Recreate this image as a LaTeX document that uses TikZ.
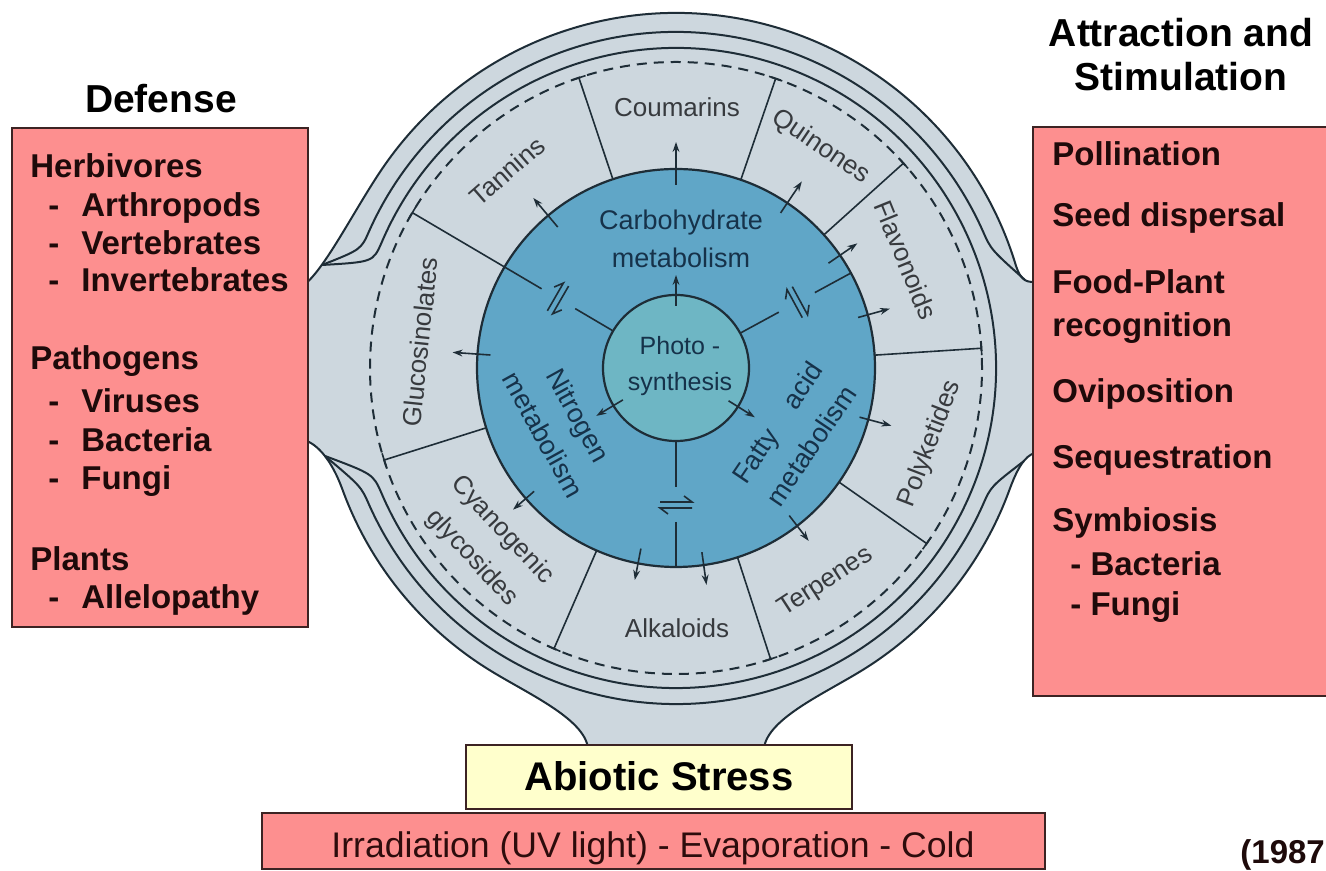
\documentclass[tikz,border=0pt]{standalone}
\usepackage{fontspec}
\setmainfont{Liberation Sans}
\usetikzlibrary{arrows.meta}
\definecolor{boxred}{RGB}{253,143,143}
\definecolor{boxedge}{RGB}{60,35,35}
\definecolor{stalk}{RGB}{205,215,222}
\definecolor{ringblue}{RGB}{96,166,199}
\definecolor{photoblue}{RGB}{110,182,196}
\definecolor{linec}{RGB}{30,45,55}
\definecolor{bluetext}{RGB}{22,50,74}
\definecolor{greytext}{RGB}{55,58,62}
\definecolor{paleyellow}{RGB}{255,255,204}
\definecolor{boxtext}{RGB}{30,10,10}
\definecolor{maroontext}{RGB}{45,12,12}
\begin{document}
\begin{tikzpicture}[x=0.5pt,y=0.5pt,
  thin line/.style={draw=linec, line width=0.8pt},
  ring line/.style={draw=linec, line width=1pt},
  arr/.style={draw=linec, line width=0.8pt, -{Stealth[length=5pt,width=3.4pt]}},
  eqsym/.style={draw=linec, line width=0.8pt},
  ringdash/.style={draw=linec, line width=1pt, dash pattern=on 5pt off 3.5pt},
  ringtxt/.style={text=greytext, font=\fontsize{13}{15}\selectfont, inner sep=0pt, text height=9.3pt, text depth=0pt},
  ringtxttwo/.style={text=greytext, font=\fontsize{13}{20.5}\selectfont, inner sep=0pt, align=center},
  bluetxt/.style={text=bluetext, font=\fontsize{13.5}{19}\selectfont, inner sep=0pt, align=center},
  phototxt/.style={text=bluetext, font=\fontsize{12.5}{18}\selectfont, inner sep=0pt, align=center},
  boxtxt/.style={anchor=west, text=boxtext, font=\fontsize{16.5}{18}\selectfont\bfseries, inner sep=0pt, text height=11.8pt, text depth=0pt},
  titletxt/.style={font=\fontsize{19.5}{22}\selectfont\bfseries, inner sep=0pt, text height=14pt, text depth=0pt},
  redbox/.style={fill=boxred, draw=boxedge, line width=0.8pt},
]
\useasboundingbox (0,0) rectangle (1326,871);
\fill[white] (0,0) rectangle (1326,871);

% ---------- central wheel ----------
\begin{scope}[shift={(676,503)}]
  % outer body with three stalks
  \path[fill=stalk, draw=linec, line width=1pt]
    (362,86) .. controls (352,86) and (345.3,84.7) .. (17:355)
    arc[start angle=17, end angle=145, radius=355]
    .. controls (-319.5,162.7) and (-350,100) .. (-372,83)
    -- (-372,-72)
    .. controls (-358,-76) and (-343.9,-93.2) .. (200:355)
    arc[start angle=200, end angle=238, radius=355]
    .. controls (-149.9,-325) and (-92,-350) .. (-88,-380)
    -- (88,-380)
    .. controls (92,-350) and (149.9,-325) .. (302:355)
    arc[start angle=302, end angle=340, radius=355]
    .. controls (343.9,-93.2) and (352,-86) .. (362,-84)
    -- cycle;
  % inner rings of the wall
  \draw[ring line] (349,88) .. controls (315,118.4) .. (24:336)
    arc[start angle=24, end angle=156, radius=336]
    .. controls (-315,118.4) .. (-354,103);
  \draw[ring line] (-351,-88) .. controls (-315,-118.4) .. (204:336)
    arc[start angle=204, end angle=336, radius=336]
    .. controls (315,-118.4) .. (348,-93);
  \draw[ring line] (-354,103) .. controls (-303,106) .. (157:320)
    arc[start angle=157, end angle=-157, radius=320]
    .. controls (-303,-106) .. (-351,-88);
  % dashed membrane
  \draw[ringdash] (0,0) circle[radius=306];
  % metabolism disc and photosynthesis core
  \draw[fill=ringblue, draw=linec, line width=1.1pt] (0,0) circle[radius=199];
  \draw[fill=photoblue, draw=linec, line width=1.1pt] (0,0) circle[radius=73];
  % sector boundaries with end bars
  \foreach \a in {108.5,71,42,3.7,-35,-72,-113.5,197.5}
    \draw[thin line, rotate=\a] (199,0) -- (306,0) (306,-7) -- (306,7);
  % spokes
  \draw[thin line, rotate=149.5] (73,0) -- (117,0) (156,0) -- (306,0) (306,-7) -- (306,7);
  \draw[thin line, rotate=28.5] (73,0) -- (117,0) (158,0) -- (199,0);
  \draw[thin line, rotate=-90] (73,0) -- (119,0) (154,0) -- (199,0);
  % equilibrium signs
  \begin{scope}[shift={(149.5:137)}, rotate=60]
    \draw[eqsym] (-16,3) -- (16,3) -- (8,9) (16,-3) -- (-16,-3) -- (-8,-9);
  \end{scope}
  \begin{scope}[shift={(28.5:138)}, rotate=-61.5]
    \draw[eqsym] (-16,3) -- (16,3) -- (8,9) (16,-3) -- (-16,-3) -- (-8,-9);
  \end{scope}
  \begin{scope}[shift={(-90:137)}]
    \draw[eqsym] (-16,3) -- (16,3) -- (8,9) (16,-3) -- (-16,-3) -- (-8,-9);
  \end{scope}
  % arrows from photosynthesis
  \foreach \a in {90,211,-32}
    \draw[arr, rotate=\a] (62,0) -- (93,0);
  % arrows to secondary products
  \foreach \a/\r/\s in {90/183/226, 130/184/222, 56/187/225, 34.5/185/220,
      15.5/189/222, -15/190/223, -52.5/186/218, -82/186/219, -101/184/216,
      221/188/216, 176/186/224}
    \draw[arr, rotate=\a] (\r,0) -- (\s,0);
\end{scope}

% ---------- ring labels ----------
\node[ringtxt] (coum) at (677,764) {Coumarins};
\node[ringtxt, rotate=41] (tann) at (507,700) {Tannins};
\node[ringtxt, rotate=-34] (quin) at (822,726) {Quinones};
\node[ringtxt, rotate=-68] (flav) at (906,611) {Flavonoids};
\node[ringtxt, rotate=69] (poly) at (928,428) {Polyketides};
\node[ringtxt, rotate=33] (terp) at (824,291) {Terpenes};
\node[ringtxt] (alka) at (677,243) {Alkaloids};
\node[ringtxttwo, rotate=-47] (cyan) at (487,327) {Cyanogenic\\glycosides};
\node[ringtxt, rotate=84] (gluc) at (420,529) {Glucosinolates};

% ---------- metabolism labels ----------
\node[bluetxt] (carb) at (681,632) {Carbohydrate\\metabolism};
\node[phototxt] (phot) at (680,505) {Photo -\\synthesis};
\node[bluetxt, font=\fontsize{13.5}{20}\selectfont, rotate=-61] (nitr) at (561,446) {Nitrogen\\metabolism};
\node[bluetxt, font=\fontsize{13.5}{20.5}\selectfont, rotate=56] (fatty) at (794,437) {Fatty\hspace{15pt}acid\\metabolism};

% ---------- left box ----------
\node[titletxt] (deftitle) at (161,772) {Defense};
\path[redbox] (12,743) rectangle (308,244);
\node[boxtxt] (l1) at (30,705) {Herbivores};
\node[boxtxt] (l2) at (48,666) {-\hspace{11pt}Arthropods};
\node[boxtxt] (l3) at (48,628) {-\hspace{11pt}Vertebrates};
\node[boxtxt] (l4) at (48,591) {-\hspace{11pt}Invertebrates};
\node[boxtxt] (l5) at (30,513) {Pathogens};
\node[boxtxt] (l6) at (48,470) {-\hspace{11pt}Viruses};
\node[boxtxt] (l7) at (48,431) {-\hspace{11pt}Bacteria};
\node[boxtxt] (l8) at (48,393) {-\hspace{11pt}Fungi};
\node[boxtxt] (l9) at (30,312) {Plants};
\node[boxtxt] (l10) at (48,274) {-\hspace{11pt}Allelopathy};

% ---------- right box ----------
\node[titletxt] (attitle1) at (1181,838) {Attraction and};
\node[titletxt] (attitle2) at (1181,794) {Stimulation};
\path[redbox] (1033,744) rectangle (1340,175);
\node[boxtxt] (r1) at (1052,717) {Pollination};
\node[boxtxt] (r2) at (1052,656) {Seed dispersal};
\node[boxtxt] (r3) at (1052,589) {Food-Plant};
\node[boxtxt] (r4) at (1052,546) {recognition};
\node[boxtxt] (r5) at (1052,480) {Oviposition};
\node[boxtxt] (r6) at (1052,414) {Sequestration};
\node[boxtxt] (r7) at (1052,351) {Symbiosis};
\node[boxtxt] (r8) at (1070,307) {- Bacteria};
\node[boxtxt] (r9) at (1070,267) {- Fungi};

% ---------- bottom ----------
\path[fill=paleyellow, draw=boxedge, line width=0.8pt] (466,126) rectangle (852,62);
\node[titletxt, font=\fontsize{20}{22}\selectfont\bfseries] (abiotic) at (659,94) {Abiotic Stress};
\path[redbox] (262,58) rectangle (1045,2);
\node[text=maroontext, font=\fontsize{17.8}{20}\selectfont, inner sep=0pt, text height=12.7pt, text depth=0pt] (irr) at (653,26) {Irradiation (UV light) - Evaporation - Cold};
\node[boxtxt] (year) at (1240,19) {(1987};
\end{tikzpicture}
\end{document}
